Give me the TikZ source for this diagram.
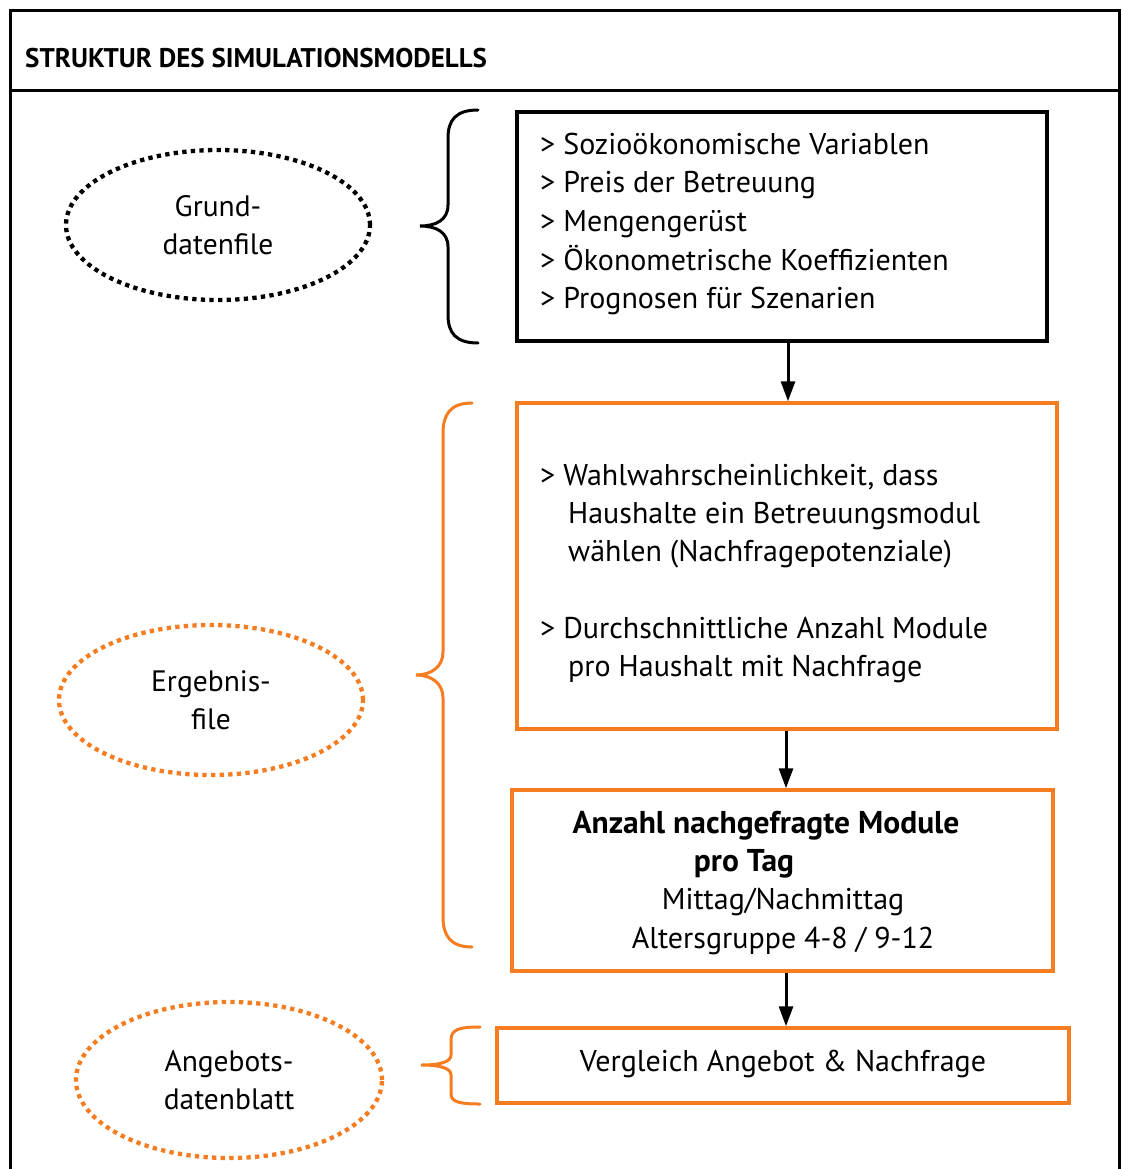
\documentclass[tikz,border=0pt]{standalone}
\usepackage{fontspec}
\setmainfont{PT Sans}
\usetikzlibrary{arrows.meta,shapes.geometric}
\definecolor{org}{RGB}{245,124,32}
\tikzset{
  frameline/.style={line width=3pt,black},
  bbox/.style={draw=black,line width=3.5pt,rectangle,inner sep=0pt},
  obox/.style={draw=org,line width=3.5pt,rectangle,inner sep=0pt},
  dotell/.style={ellipse,line width=4.3pt,dash pattern=on 4.3pt off 4.3pt,inner sep=0pt,align=center,
     font=\fontsize{29.5}{38}\selectfont},
  brace/.style={line width=3pt,line cap=round},
  txt/.style={inner sep=0pt,anchor=base west,font=\fontsize{30}{38}\selectfont},
  ctxt/.style={inner sep=0pt,anchor=base,font=\fontsize{30}{38}\selectfont},
  btxt/.style={inner sep=0pt,anchor=base,font=\fontsize{31.5}{38}\selectfont\bfseries},
  arr/.style={line width=3pt,-{Triangle[length=20pt,width=14pt]}},
}
\begin{document}
\begin{tikzpicture}[x=1pt,y=-1pt]
\useasboundingbox (0,0) rectangle (1121,1169);
% frame
\draw[frameline] (10,1175) -- (10,11) -- (1119,11) -- (1119,1175);
\draw[frameline] (10,91) -- (1119,91);
\node[txt,font=\fontsize{27}{30}\selectfont\bfseries] (title) at (25,68) {STRUKTUR DES SIMULATIONSMODELLS};

% boxes
\node[bbox,minimum width=530,minimum height=229] (b1) at (782,226.5) {};
\node[obox,minimum width=540,minimum height=326] (b2) at (787,566) {};
\node[obox,minimum width=541,minimum height=181] (b3) at (782.5,880.5) {};
\node[obox,minimum width=572,minimum height=75] (b4) at (783,1065.5) {};

% box texts
\node[txt] (t11) at (540,155) {> Sozioökonomische Variablen};
\node[txt] (t12) at (540,193) {> Preis der Betreuung};
\node[txt] (t13) at (540,231) {> Mengengerüst};
\node[txt] (t14) at (540,270) {> Ökonometrische Koeffizienten};
\node[txt] (t15) at (540,308) {> Prognosen für Szenarien};

\node[txt] (t21) at (540,485) {> Wahlwahrscheinlichkeit, dass};
\node[txt] (t22) at (568,523) {Haushalte ein Betreuungsmodul};
\node[txt] (t23) at (568,561) {wählen (Nachfragepotenziale)};
\node[txt] (t24) at (540,638) {> Durchschnittliche Anzahl Module};
\node[txt] (t25) at (568,676) {pro Haushalt mit Nachfrage};

\node[btxt] (t31) at (766,833) {Anzahl nachgefragte Module};
\node[btxt] (t32) at (744,871) {pro Tag};
\node[ctxt] (t33) at (783,909) {Mittag/Nachmittag};
\node[ctxt] (t34) at (783,948) {Altersgruppe 4-8 / 9-12};

\node[ctxt] (t41) at (783,1071) {Vergleich Angebot \& Nachfrage};

% ellipses
\node[dotell,draw=black,minimum width=304,minimum height=150] (e1) at (218,225) {Grund-\\datenfile};
\node[dotell,draw=org,minimum width=304,minimum height=150] (e2) at (211,700) {Ergebnis-\\file};
\node[dotell,draw=org,minimum width=306,minimum height=156] (e3) at (229,1080) {Angebots-\\datenblatt};

% braces
\draw[brace,black] (478,110) .. controls (456,110) and (448,120) .. (448,138) -- (448,205)
   .. controls (448,220) and (436,226) .. (420,226)
   .. controls (436,226) and (448,232) .. (448,247) -- (448,315)
   .. controls (448,333) and (456,343) .. (478,343);
\draw[brace,org] (472,403) .. controls (450,403) and (443,415) .. (443,433) -- (443,652)
   .. controls (443,667) and (431,675) .. (416,675)
   .. controls (431,675) and (443,683) .. (443,698) -- (443,917)
   .. controls (443,935) and (450,947) .. (472,947);
\draw[brace,org] (480,1027) .. controls (460,1027) and (451,1029) .. (451,1040) -- (451,1055)
   .. controls (451,1062) and (440,1065) .. (421,1065)
   .. controls (440,1065) and (451,1068) .. (451,1075) -- (451,1094)
   .. controls (451,1102) and (460,1104) .. (480,1104);

% arrows
\draw[arr] ([xshift=6pt]b1.south) -- ([xshift=6pt]b1.south |- b2.north);
\draw[arr] ([xshift=-1pt]b2.south) -- ([xshift=-1pt]b2.south |- b3.north);
\draw[arr] ([xshift=3.5pt]b3.south) -- ([xshift=3.5pt]b3.south |- b4.north);
\end{tikzpicture}
\end{document}
